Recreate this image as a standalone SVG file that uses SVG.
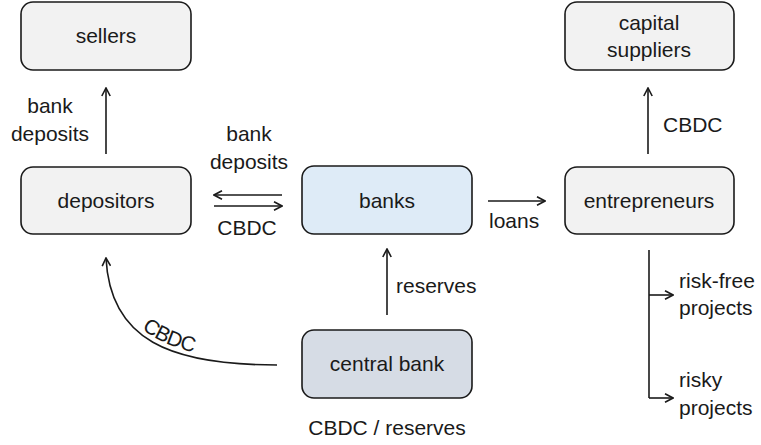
<svg xmlns="http://www.w3.org/2000/svg" width="761" height="445" viewBox="0 0 761 445">
<defs>
<style>
.box{stroke:#1a1a1a;stroke-width:1.6}
.g{fill:#f2f2f2}
.b{fill:#deebf7}
.c{fill:#d6dce5}
text{font-family:"Liberation Sans",Arial,sans-serif;font-size:21px;fill:#1a1a1a}
.m{text-anchor:middle}
.ln{fill:none;stroke:#1a1a1a;stroke-width:1.6}
</style>
<marker id="ah" viewBox="0 0 10 10" refX="9" refY="5" markerWidth="10" markerHeight="10" markerUnits="userSpaceOnUse" orient="auto">
<path d="M1 0.8 L9 5 L1 9.2" fill="none" stroke="#1a1a1a" stroke-width="1.6"/>
</marker>
</defs>
<rect width="761" height="445" fill="#ffffff"/>
<g id="sellers"><rect class="box g" x="21" y="2" width="170" height="68" rx="12"/><text class="m" x="106" y="43">sellers</text></g>
<g id="depositors"><rect class="box g" x="21" y="167" width="170" height="67" rx="12"/><text class="m" x="106" y="208">depositors</text></g>
<g id="banks"><rect class="box b" x="302" y="166" width="170" height="68" rx="12"/><text class="m" x="387" y="208">banks</text></g>
<g id="entrepreneurs"><rect class="box g" x="565" y="167" width="169" height="67" rx="12"/><text class="m" x="649" y="208">entrepreneurs</text></g>
<g id="capital-suppliers"><rect class="box g" x="565" y="2" width="169" height="68" rx="12"/><text class="m" x="649" y="30">capital</text><text class="m" x="649" y="57">suppliers</text></g>
<g id="central-bank"><rect class="box c" x="302" y="330" width="170" height="68" rx="12"/><text class="m" x="387" y="371">central bank</text><text class="m" x="387" y="435">CBDC / reserves</text></g>
<g id="risk-free-projects"><text x="679" y="288">risk-free</text><text x="679" y="315">projects</text></g>
<g id="risky-projects"><text x="679" y="387">risky</text><text x="679" y="415">projects</text></g>
<g id="connectors">
<line class="ln" x1="106" y1="154" x2="106" y2="88" marker-end="url(#ah)"/>
<text class="m" x="50" y="113">bank</text><text class="m" x="50" y="141">deposits</text>
<line class="ln" x1="282" y1="195" x2="214" y2="195" marker-end="url(#ah)"/>
<line class="ln" x1="214" y1="206" x2="282" y2="206" marker-end="url(#ah)"/>
<text class="m" x="249" y="141">bank</text><text class="m" x="249" y="169">deposits</text>
<text class="m" x="247" y="235">CBDC</text>
<line class="ln" x1="488" y1="201" x2="545" y2="201" marker-end="url(#ah)"/>
<text x="489" y="228">loans</text>
<line class="ln" x1="648" y1="154" x2="648" y2="88" marker-end="url(#ah)"/>
<text x="663" y="132">CBDC</text>
<line class="ln" x1="387" y1="315" x2="387" y2="249" marker-end="url(#ah)"/>
<text x="396" y="293">reserves</text>
<path class="ln" d="M277 365 C170 365 110 340 106 258" marker-end="url(#ah)"/>
<path id="cv" d="M106 258 C110 340 170 365 277 365" fill="none" stroke="none"/>
<text dy="-5"><textPath href="#cv" startOffset="84">CBDC</textPath></text>
<path class="ln" d="M649 250 V398"/>
<line class="ln" x1="649" y1="295" x2="673" y2="295" marker-end="url(#ah)"/>
<line class="ln" x1="649" y1="398" x2="673" y2="398" marker-end="url(#ah)"/>
</g>
</svg>
